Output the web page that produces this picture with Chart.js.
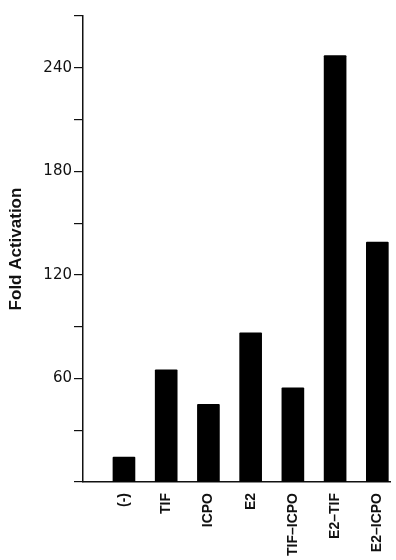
<!DOCTYPE html>
<html>
<head>
<meta charset="utf-8">
<script src="https://cdn.jsdelivr.net/npm/chart.js@4.4.0/dist/chart.umd.min.js"></script>
<style>
  html, body { margin: 0; padding: 0; background: #fff; }
  #wrap { width: 396px; height: 560px; }
</style>
</head>
<body>
<div id="wrap"><canvas id="chart" width="396" height="560"></canvas></div>
<script>
const categories = ["(-)", "TIF", "ICPO", "E2", "TIF\u2013ICPO", "E2\u2013TIF", "E2\u2013ICPO"];
const foldActivation = [14.5, 65, 45, 86.5, 54.5, 247, 139];
const yTickLabels = [60, 120, 180, 240];

const ctx = document.getElementById("chart").getContext("2d");

// linear x so the axis can start a full slot left of the first bar
const points = foldActivation.map((v, i) => ({ x: i, y: v }));

new Chart(ctx, {
  type: "bar",
  data: {
    datasets: [
      {
        data: points,
        backgroundColor: "#000",
        borderWidth: 0,
        borderRadius: 1,
        borderSkipped: "bottom",
        barThickness: 22,
      },
    ],
  },
  options: {
    responsive: false,
    animation: false,
    layout: { padding: { top: 16, right: 6, left: 0, bottom: 0 } },
    plugins: {
      legend: { display: false },
      tooltip: { enabled: false },
    },
    scales: {
      x: {
        type: "linear",
        offset: false,
        min: -0.97,
        max: 6.3,
        grid: { display: false, drawTicks: false, offset: false },
        border: { display: true, color: "#111", width: 1.5 },
        afterBuildTicks: (scale) => {
          scale.ticks = categories.map((c, i) => ({ value: i }));
        },
        ticks: {
          autoSkip: false,
          minRotation: 90,
          maxRotation: 90,
          padding: 11,
          color: "#111",
          font: { family: "'Liberation Sans', Arial, sans-serif", size: 14, weight: "bold" },
          callback: (v) => categories[v],
        },
        afterFit: (scale) => {
          scale.height = 78;
          scale.paddingLeft = 0;
          scale.paddingRight = 0;
        },
      },
      y: {
        min: 0,
        max: 270,
        grid: { drawOnChartArea: false, tickLength: 9, color: "#111", lineWidth: 1.2 },
        border: { display: true, color: "#111", width: 1.5 },
        ticks: {
          stepSize: 30,
          padding: 2,
          color: "#111",
          font: { family: "'DejaVu Sans', sans-serif", size: 15 },
          callback: (v) => (yTickLabels.includes(v) ? String(v) : ""),
        },
        title: {
          display: true,
          text: "Fold Activation",
          color: "#111",
          padding: { top: 6, bottom: 4 },
          font: { family: "'Liberation Sans', Arial, sans-serif", size: 17, weight: "bold" },
        },
        afterFit: (scale) => { scale.width = 83; },
      },
    },
  },
});
</script>
</body>
</html>
